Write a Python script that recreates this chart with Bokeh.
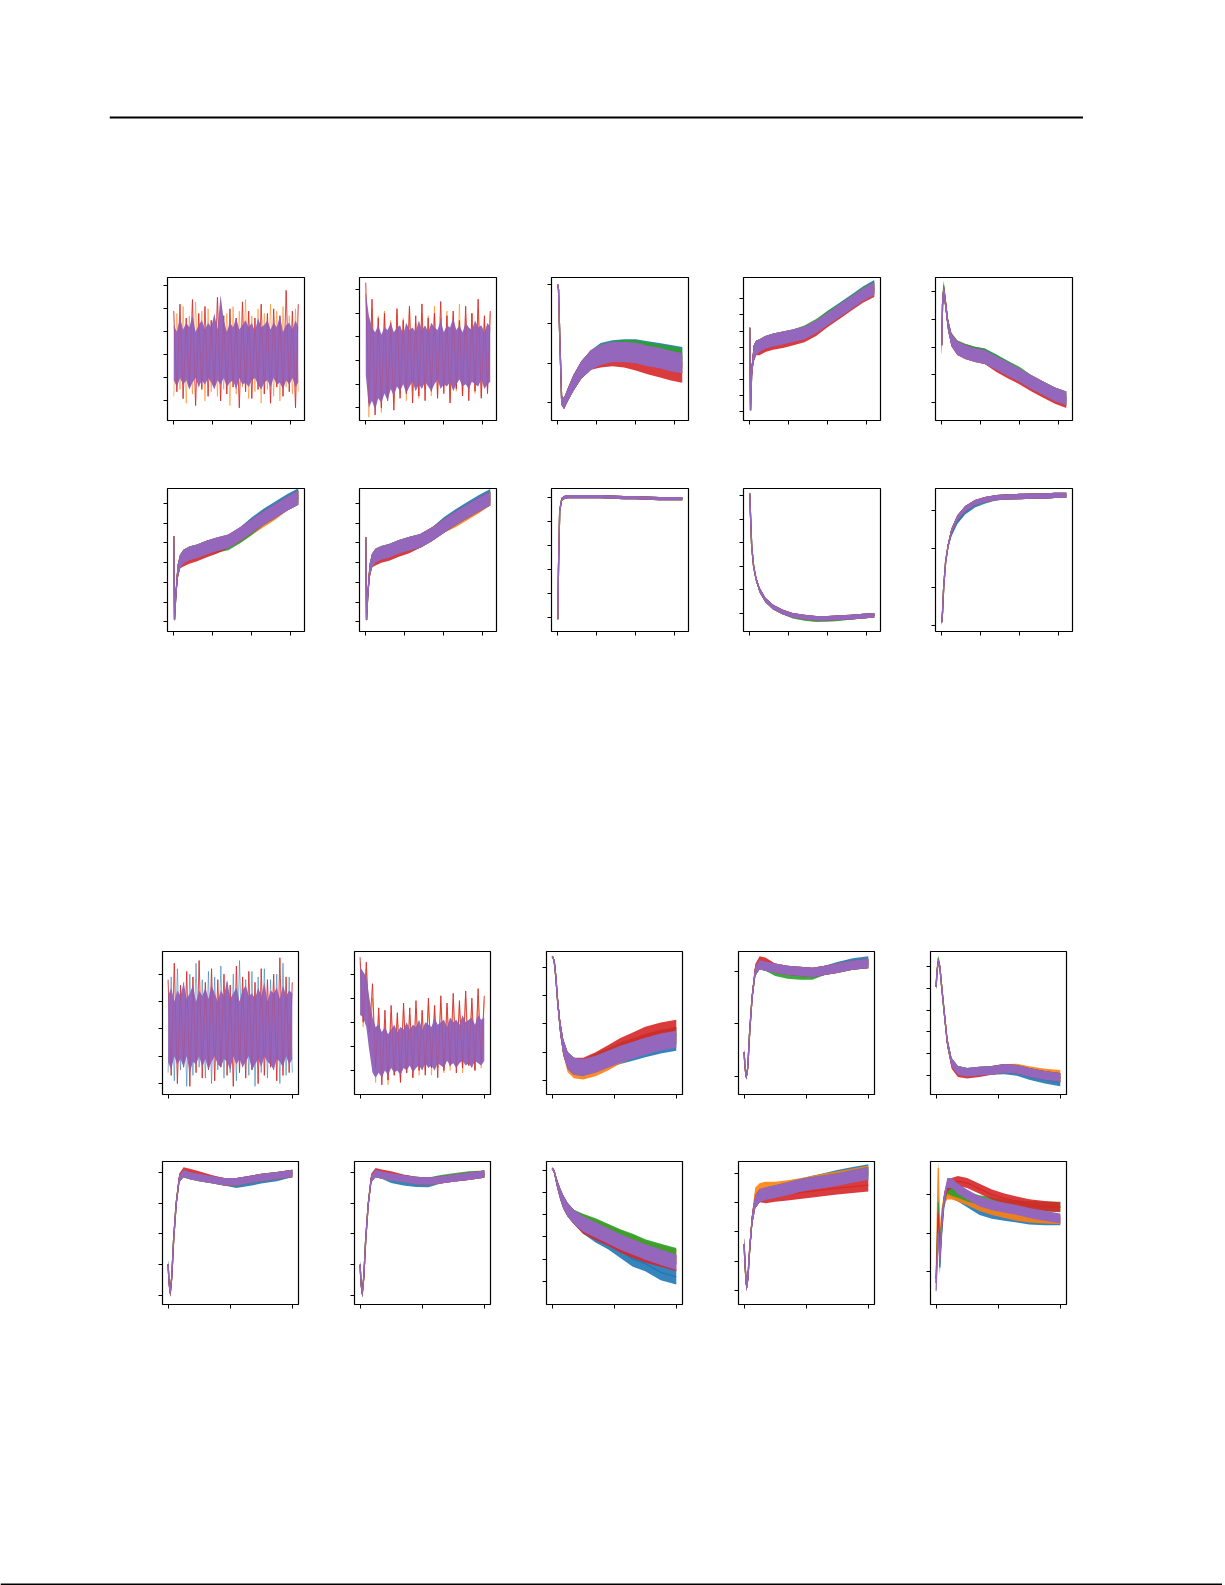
from bokeh.plotting import figure
from bokeh.layouts import row, column
from bokeh.models import Spacer, FixedTicker, CustomJSTickFormatter, Range1d
from bokeh.embed import file_html
from bokeh.resources import INLINE

# series colours (blue, orange, green, red, purple)
COLORS = ["#1f77b4", "#ff7f0e", "#2ca02c", "#d62728", "#9467bd"]

# sample positions (top block and bottom block of panels)
XT = [0, 0.02, 0.05, 0.1, 0.16, 0.25, 0.4, 0.6, 0.85, 1.1, 1.4, 1.7, 2.0, 2.3, 2.6, 2.9, 3.19]
XB = [0, 0.015, 0.035, 0.06, 0.09, 0.13, 0.18, 0.25, 0.35, 0.5, 0.7, 0.9, 1.1, 1.3, 1.5, 1.75, 2.0]
XT_TICKS = [0, 1, 2, 3]
XB_TICKS = [0, 1, 2]
XNT = [0, 0.08, 0.16, 0.24, 0.32, 0.4, 0.48, 0.56, 0.64, 0.72, 0.8, 0.88, 0.96, 1.04, 1.12, 1.2,
       1.28, 1.36, 1.44, 1.52, 1.6, 1.68, 1.76, 1.84, 1.92, 2.0, 2.08, 2.16, 2.24, 2.32, 2.4, 2.48,
       2.56, 2.64, 2.72, 2.8, 2.88, 2.96, 3.04, 3.12, 3.19]
XNB = [0, 0.05, 0.1, 0.15, 0.2, 0.25, 0.3, 0.35, 0.4, 0.45, 0.5, 0.55, 0.6, 0.65, 0.7, 0.75, 0.8,
       0.85, 0.9, 0.95, 1.0, 1.05, 1.1, 1.15, 1.2, 1.25, 1.3, 1.35, 1.4, 1.45, 1.5, 1.55, 1.6, 1.65,
       1.7, 1.75, 1.8, 1.85, 1.9, 1.95, 2.0]


def seg(base, start, vals):
    out = list(base)
    out[start:start + len(vals)] = vals
    return out


# ---------------- noisy panels (fine sampling) ----------------
P1_PHI = [3.3, 3.0, 3.6, 3.1, 3.4, 3.2, 3.7, 3.0, 3.3, 3.5, 3.1, 3.4, 3.2, 3.8, 3.1, 4.6, 3.5, 3.0, 3.4,
          3.2, 3.6, 3.1, 3.3, 3.5, 3.2, 3.4, 3.0, 3.6, 3.2, 3.3, 3.5, 3.1, 3.4, 3.2, 3.7, 3.0, 3.3, 3.4,
          3.1, 3.5, 3.2]
P1_PLO = [0.9, 0.6, 1.0, 0.7, 0.9, 0.5, 0.8, 1.0, 0.6, 0.9, 0.7, 1.0, 0.8, 0.5, 0.9, 0.7, 1.0, 0.6, 0.8,
          0.9, 0.5, 1.0, 0.7, 0.8, 0.6, 0.9, 1.0, 0.7, 0.5, 0.8, 0.9, 0.6, 1.0, 0.7, 0.8, 0.5, 0.9, 0.7,
          1.0, 0.6, 0.8]
P1_RED = [3.9, 0.4, 4.2, 0.1, 3.6, 0.6, 4.4, -0.2, 3.8, 0.5, 4.1, 0.2, 3.5, 0.7, 4.5, 0.0, 3.7, 0.3,
          4.0, 0.6, 3.6, -0.3, 4.3, 0.4, 3.9, 0.1, 3.6, 0.5, 4.2, 0.3, 3.8, -0.1, 4.0, 0.6, 3.7, 0.2,
          4.8, 0.4, 3.9, -0.3, 4.2]
P1_ALT = [0.2, 3.8, 0.5, 4.1, -0.1, 3.7, 0.3, 4.3, 0.6, 3.9, 0.0, 4.0, 0.4, 3.6, 0.2, 4.2, 0.5, 3.8,
          -0.2, 4.1, 0.3, 3.9, 0.6, 4.4, 0.1, 3.7, 0.4, 4.0, -0.1, 3.8, 0.5, 4.2, 0.2, 3.9, 0.0, 4.1,
          0.6, 3.7, 0.3, 4.0, 0.4]

P2_PHI = [4.9, 3.9, 3.4, 3.2, 3.5, 3.1, 3.4, 3.3, 3.6, 3.2, 3.4, 3.5, 3.1, 3.6, 3.3, 3.4, 3.2, 3.7, 3.3,
          3.5, 3.2, 3.6, 3.4, 3.3, 3.7, 3.2, 3.5, 3.4, 3.8, 3.3, 3.5, 3.2, 3.6, 3.4, 3.3, 3.7, 3.4, 3.5,
          3.2, 3.6, 3.4]
P2_PLO = [1.4, 0.0, 0.3, -0.1, 0.4, 0.2, 0.6, 0.3, 0.8, 0.5, 0.9, 0.7, 1.0, 0.6, 0.9, 1.1, 0.7, 1.0,
          0.8, 1.1, 0.9, 0.7, 1.0, 1.2, 0.8, 1.0, 0.9, 1.1, 0.7, 1.0, 1.2, 0.9, 1.0, 0.8, 1.1, 1.0, 0.9,
          1.2, 0.8, 1.0, 1.1]
P2_RED = [5.3, 0.2, 4.6, -0.3, 3.8, 0.0, 4.0, 0.3, 3.6, -0.1, 4.2, 0.4, 3.7, 0.6, 4.3, 0.2, 3.9, 0.5,
          4.4, 0.3, 3.8, 0.7, 4.0, 0.4, 4.5, 0.6, 3.9, 0.2, 4.1, 0.8, 3.7, 0.5, 4.3, 0.3, 4.0, 0.7,
          4.6, 0.4, 3.9, 0.6, 4.1]
P2_ALT = [4.8, -0.4, 4.2, 0.1, 3.9, -0.2, 4.1, 0.4, 3.7, 0.2, 4.0, 0.6, 3.8, 0.3, 4.2, 0.7, 3.6, 0.4,
          4.0, 0.8, 3.9, 0.5, 4.3, 0.6, 3.8, 0.9, 4.1, 0.4, 3.9, 0.7, 4.4, 0.5, 3.8, 0.8, 4.0, 0.6,
          4.2, 0.5, 3.7, 0.8, 4.0]

P11_PHI = [3.2, 3.5, 3.0, 3.4, 3.2, 3.7, 3.1, 3.3, 3.6, 3.0, 3.4, 3.2, 3.5, 3.1, 3.6, 3.3, 3.0, 3.4,
           3.2, 3.8, 3.1, 3.3, 3.5, 3.0, 3.4, 3.6, 3.2, 3.3, 3.1, 3.5, 3.2, 3.7, 3.0, 3.4, 3.3, 3.5,
           3.1, 3.6, 3.2, 3.4, 3.3]
P11_PLO = [0.8, 0.5, 1.0, 0.7, 0.9, 0.6, 1.0, 0.4, 0.8, 0.7, 1.0, 0.6, 0.9, 0.5, 0.8, 1.0, 0.7, 0.6,
           0.9, 0.8, 0.5, 1.0, 0.7, 0.9, 0.6, 0.8, 1.0, 0.5, 0.7, 0.9, 0.6, 1.0, 0.8, 0.7, 0.5, 0.9,
           0.8, 0.6, 1.0, 0.7, 0.9]
P11_RED = [3.8, 0.3, 4.4, 0.0, 3.6, 0.6, 4.1, -0.1, 3.9, 0.4, 4.5, 0.2, 3.7, 0.5, 4.2, 0.1, 3.8, 0.6,
           4.0, 0.3, 3.6, -0.1, 4.3, 0.4, 3.9, 0.2, 4.1, 0.5, 3.7, 0.0, 4.2, 0.3, 3.8, 0.6, 4.0, 0.1,
           4.6, 0.3, 3.9, 0.4, 3.7]
P11_ALT = [0.4, 3.9, 0.1, 4.2, 0.5, 3.7, -0.1, 4.0, 0.3, 4.4, 0.6, 3.8, 0.2, 4.1, 0.0, 3.9, 0.5, 4.3,
           0.2, 3.7, 0.4, 4.0, 0.1, 4.5, 0.6, 3.8, 0.3, 4.1, -0.1, 3.9, 0.4, 4.2, 0.2, 3.8, 0.5, 4.0,
           0.0, 4.4, 0.3, 3.9, 0.4]

P12_PHI = [4.3, 4.1, 3.9, 3.0, 2.2, 1.8, 1.9, 1.6, 1.8, 1.5, 1.7, 1.9, 1.6, 1.8, 1.7, 2.0, 1.7, 1.9,
           1.8, 2.1, 1.7, 2.0, 1.9, 1.8, 2.2, 1.9, 2.0, 2.1, 1.8, 2.2, 2.0, 2.1, 1.9, 2.3, 2.0, 2.1,
           2.2, 1.9, 2.3, 2.1, 2.2]
P12_PLO = [2.3, 2.2, 1.8, 0.8, -0.1, -0.3, -0.1, -0.3, 0.0, -0.2, 0.1, -0.1, 0.0, -0.2, 0.1, 0.0, 0.2,
           -0.1, 0.1, 0.2, 0.0, 0.3, 0.1, 0.2, 0.0, 0.3, 0.2, 0.1, 0.4, 0.2, 0.3, 0.1, 0.3, 0.4, 0.2,
           0.3, 0.1, 0.4, 0.3, 0.2, 0.4]
P12_RED = [4.7, 2.0, 4.5, 1.6, 3.6, 0.1, 2.6, -0.6, 2.5, -0.4, 2.7, -0.2, 2.4, -0.5, 2.8, -0.1, 2.6,
           -0.3, 2.9, 0.0, 2.5, -0.2, 3.0, 0.1, 2.7, -0.3, 3.1, 0.0, 2.8, 0.2, 3.2, -0.1, 2.9, 0.1,
           3.3, 0.2, 3.0, 0.0, 3.4, 0.3, 3.1]
P12_ALT = [4.5, 1.8, 4.2, 0.9, 3.0, -0.5, 2.3, -0.3, 2.1, -0.6, 2.4, -0.2, 2.2, -0.4, 2.5, -0.1, 2.3,
           -0.3, 2.6, -0.2, 2.4, 0.0, 2.7, -0.2, 2.5, 0.1, 2.8, -0.1, 2.6, 0.0, 2.9, 0.1, 2.7, -0.1,
           3.0, 0.2, 2.8, 0.0, 3.1, 0.1, 2.9]

# ---------------- row 1 (smooth panels) ----------------
P3_MID = [3.0, 2.87, 1.72, 0.05, -0.03, 0.18, 0.49, 0.82, 1.08, 1.21, 1.28, 1.28, 1.26, 1.18, 1.13, 1.05, 1.0]
P3_BLUE = seg(P3_MID, 9, [1.25, 1.32, 1.35, 1.35, 1.3, 1.25, 1.2, 1.15])
P3_GREEN = seg(P3_MID, 9, [1.22, 1.3, 1.33, 1.33, 1.28, 1.22, 1.17, 1.12])
P3_RED = seg(P3_MID, 9, [1.15, 1.18, 1.15, 1.07, 0.98, 0.9, 0.82, 0.76])
P3_W = [0.03, 0.05, 0.1, 0.12, 0.14, 0.16, 0.2, 0.22, 0.25, 0.26, 0.26, 0.26, 0.26, 0.26, 0.26, 0.26, 0.26]

P4_MID = [5.2, 0.1, 2.5, 3.6, 3.95, 4.1, 4.3, 4.45, 4.57, 4.7, 4.88, 5.26, 5.76, 6.25, 6.75, 7.25, 7.62]
P4_BLUE = seg(P4_MID, 12, [5.85, 6.35, 6.85, 7.35, 7.75])
P4_GREEN = seg(P4_MID, 10, [4.95, 5.35, 5.85, 6.3, 6.8, 7.3, 7.65])
P4_RED = seg(P4_MID, 5, [3.9, 4.1, 4.25, 4.35, 4.5, 4.7, 5.1, 5.65, 6.15, 6.65, 7.15, 7.5])
P4_W = [0.1, 0.1, 0.4, 0.5, 0.45, 0.4, 0.4, 0.4, 0.4, 0.4, 0.4, 0.4, 0.4, 0.4, 0.4, 0.4, 0.4]

P5_MID = [2.07, 3.53, 4.07, 3.53, 2.8, 2.25, 1.96, 1.82, 1.71, 1.64, 1.42, 1.2, 0.98, 0.73, 0.51, 0.29, 0.15]
P5_BLUE = seg(P5_MID, 7, [1.86, 1.76, 1.7, 1.48, 1.24])
P5_GREEN = seg(P5_MID, 2, [4.2, 3.6, 2.85, 2.3, 2.0, 1.87, 1.76, 1.7, 1.47, 1.25, 1.03])
P5_RED = seg(P5_MID, 10, [1.35, 1.12, 0.9, 0.65, 0.42, 0.2, 0.05])
P5_W = [0.4, 0.3, 0.2, 0.2, 0.2, 0.22, 0.25, 0.25, 0.25, 0.25, 0.25, 0.25, 0.25, 0.25, 0.25, 0.25, 0.25]

# ---------------- row 2 ----------------
P6_MID = [4.34, 0.12, 1.25, 2.54, 3.05, 3.31, 3.47, 3.57, 3.77, 3.93, 4.08, 4.44, 4.85, 5.26, 5.62, 5.98, 6.29]
P6_BLUE = seg(P6_MID, 12, [4.95, 5.38, 5.75, 6.12, 6.42])
P6_ORANGE = seg(P6_MID, 11, [4.35, 4.75, 5.15, 5.52])
P6_GREEN = seg(P6_MID, 9, [3.85, 3.98, 4.33, 4.75])
P6_RED = seg(P6_MID, 5, [3.15, 3.3, 3.42, 3.62, 3.8])
P6_W = [0.1, 0.1, 0.3, 0.35, 0.35, 0.35, 0.35, 0.35, 0.35, 0.35, 0.35, 0.35, 0.35, 0.35, 0.35, 0.35, 0.35]

P7_MID = [4.3, 0.1, 1.3, 2.6, 3.1, 3.35, 3.5, 3.6, 3.8, 3.95, 4.1, 4.45, 4.85, 5.25, 5.6, 5.95, 6.25]
P7_BLUE = seg(P7_MID, 12, [4.95, 5.36, 5.72, 6.08, 6.38])
P7_ORANGE = seg(P7_MID, 13, [5.15, 5.5, 5.85])
P7_RED = seg(P7_MID, 5, [3.2, 3.35, 3.45, 3.65, 3.82])
P7_W = P6_W

P8_MID = [-0.08, 2.12, 4.45, 4.92, 5.0, 5.04, 5.04, 5.04, 5.04, 5.04, 5.02, 5.0, 5.0, 4.98, 4.96, 4.96, 4.96]
P8_W = [0.07] * 17

P9_MID = [5.09, 4.14, 2.84, 1.98, 1.47, 0.99, 0.56, 0.26, 0.04, -0.09, -0.17, -0.22, -0.22, -0.19, -0.17, -0.13, -0.09]
P9_GREEN = seg(P9_MID, 9, [-0.13, -0.22, -0.28, -0.27, -0.23])
P9_W = [0.03, 0.05, 0.08, 0.1, 0.1, 0.1, 0.1, 0.1, 0.1, 0.1, 0.1, 0.1, 0.1, 0.1, 0.1, 0.1, 0.1]

P10_MID = [0.08, 0.34, 1.01, 1.67, 2.07, 2.47, 2.81, 3.05, 3.21, 3.29, 3.34, 3.36, 3.37, 3.38, 3.38, 3.4, 3.4]
P10_BLUE = seg(P10_MID, 5, [2.4, 2.72, 2.97, 3.15, 3.25])
P10_W = [0.07] * 17

# ---------------- row 3 ----------------
P13_MID = [4.39, 4.36, 4.21, 3.68, 2.79, 1.89, 1.18, 0.71, 0.5, 0.46, 0.57, 0.75, 0.93, 1.07, 1.21, 1.36, 1.46]
P13_BLUE = seg(P13_MID, 12, [0.88, 1.0, 1.12, 1.25, 1.35])
P13_ORANGE = seg(P13_MID, 7, [0.6, 0.38, 0.33, 0.45, 0.65, 0.9, 1.1, 1.28, 1.45, 1.55])
P13_GREEN = seg(P13_MID, 10, [0.65, 0.85, 1.05, 1.2, 1.35, 1.5, 1.6])
P13_RED = seg(P13_MID, 9, [0.5, 0.7, 0.95, 1.2, 1.4, 1.6, 1.75, 1.85])
P13_W = [0.03, 0.03, 0.08, 0.15, 0.2, 0.25, 0.28, 0.3, 0.3, 0.3, 0.3, 0.3, 0.3, 0.3, 0.3, 0.3, 0.3]

P14_MID = [0.46, 0.17, -0.02, 0.17, 0.85, 1.52, 2.0, 2.13, 2.1, 2.06, 2.02, 2.0, 1.98, 2.02, 2.06, 2.12, 2.15]
P14_BLUE = seg(P14_MID, 14, [2.09, 2.16, 2.2])
P14_GREEN = seg(P14_MID, 9, [2.0, 1.95, 1.93, 1.93])
P14_RED = seg(P14_MID, 6, [2.05, 2.2, 2.17])
P14_W = [0.05, 0.05, 0.05, 0.06, 0.08, 0.09, 0.09, 0.09, 0.09, 0.09, 0.09, 0.09, 0.09, 0.09, 0.09, 0.09, 0.09]

P15_MID = [4.07, 4.77, 5.23, 5.0, 4.07, 2.92, 1.53, 0.6, 0.23, 0.14, 0.19, 0.23, 0.32, 0.28, 0.14, 0.0, -0.09]
P15_BLUE = seg(P15_MID, 12, [0.25, 0.18, 0.0, -0.18, -0.3])
P15_ORANGE = seg(P15_MID, 13, [0.33, 0.22, 0.1, 0.05])
P15_GREEN = seg(P15_MID, 2, [5.4])
P15_RED = seg(P15_MID, 7, [0.5, 0.12, 0.05, 0.12])
P15_W = [0.15, 0.15, 0.12, 0.12, 0.15, 0.18, 0.2, 0.2, 0.2, 0.2, 0.2, 0.2, 0.2, 0.2, 0.2, 0.2, 0.2]

# ---------------- row 4 ----------------
P16_MID = [1.02, 0.43, 0.07, 0.62, 1.84, 2.98, 3.8, 3.97, 3.9, 3.84, 3.77, 3.7, 3.7, 3.77, 3.84, 3.9, 3.97]
P16_BLUE = seg(P16_MID, 12, [3.62, 3.68, 3.76, 3.84])
P16_RED = seg(P16_MID, 6, [3.85, 4.05, 4.0, 3.92, 3.8])
P16_W = [0.12] * 17

P17_MID = [1.0, 0.4, 0.05, 0.6, 1.8, 2.95, 3.8, 3.97, 3.92, 3.86, 3.8, 3.74, 3.72, 3.76, 3.82, 3.88, 3.95]
P17_BLUE = seg(P17_MID, 9, [3.78, 3.7, 3.65, 3.64])
P17_GREEN = seg(P17_MID, 13, [3.8, 3.86, 3.92])
P17_RED = seg(P17_MID, 6, [3.85, 4.03, 3.98, 3.92, 3.82])
P17_W = [0.12] * 17

P18_MID = [5.09, 5.05, 4.95, 4.64, 4.32, 3.95, 3.59, 3.23, 2.91, 2.59, 2.32, 2.05, 1.77, 1.55, 1.32, 1.09, 0.86]
P18_BLUE = seg(P18_MID, 9, [2.5, 2.1, 1.8, 1.4, 1.0, 0.8, 0.4, 0.2])
P18_ORANGE = seg(P18_MID, 9, [2.65, 2.45, 2.2, 1.95, 1.75, 1.5, 1.3, 1.1])
P18_GREEN = seg(P18_MID, 9, [2.7, 2.5, 2.25, 2.0, 1.8, 1.55, 1.35, 1.15])
P18_RED = seg(P18_MID, 9, [2.5, 2.2, 1.95, 1.65, 1.4, 1.2, 1.0, 0.8])
P18_W = [0.05, 0.05, 0.08, 0.15, 0.2, 0.25, 0.3, 0.3, 0.32, 0.35, 0.35, 0.35, 0.35, 0.35, 0.35, 0.35, 0.35]

P19_MID = [1.59, 0.9, 0.21, 0.38, 1.41, 2.45, 3.03, 3.24, 3.31, 3.38, 3.48, 3.59, 3.66, 3.72, 3.79, 3.9, 4.0]
P19_BLUE = seg(P19_MID, 10, [3.5, 3.6, 3.7, 3.8, 3.9, 4.0, 4.1])
P19_ORANGE = seg(P19_MID, 6, [3.3, 3.45, 3.5, 3.5, 3.55, 3.62, 3.7, 3.78, 3.86, 3.95, 4.05])
P19_RED = seg(P19_MID, 8, [3.2, 3.25, 3.3, 3.35, 3.4, 3.45, 3.5, 3.55, 3.6])
P19_W = [0.22] * 17

P20_BLUE = [-0.3, 0.3, 1.3, 0.1, 1.0, 1.8, 2.1, 2.05, 1.95, 1.8, 1.6, 1.5, 1.45, 1.4, 1.35, 1.33, 1.33]
P20_ORANGE = [-0.2, 1.0, 2.7, 0.8, 1.5, 1.9, 2.0, 2.0, 1.95, 1.85, 1.7, 1.6, 1.52, 1.45, 1.4, 1.38, 1.36]
P20_GREEN = [-0.3, 0.5, 1.8, 0.5, 1.3, 1.9, 2.15, 2.1, 2.05, 1.95, 1.85, 1.8, 1.75, 1.72, 1.7, 1.68, 1.68]
P20_RED = [-0.2, 0.4, 1.5, 0.3, 1.2, 1.9, 2.2, 2.3, 2.35, 2.3, 2.15, 2.0, 1.9, 1.82, 1.75, 1.7, 1.67]
P20_PURPLE = [-0.5, 0.2, 1.0, 0.3, 1.2, 1.9, 2.3, 2.3, 2.15, 2.0, 1.82, 1.72, 1.66, 1.6, 1.52, 1.45, 1.38]
P20_W = [0.1, 0.15, 0.2, 0.2, 0.15, 0.15, 0.13, 0.13, 0.13, 0.13, 0.13, 0.13, 0.13, 0.13, 0.13, 0.13, 0.13]


def P(grid, n, yr, series=None, w=None, noisy=None):
    return dict(grid=grid, n=n, yr=yr, series=series, w=w, noisy=noisy)


ROW1 = [
    P("t", 6, (-0.85, 5.36), noisy=(XNT, P1_PLO, P1_PHI, P1_RED, P1_ALT, 1)),
    P("t", 6, (-0.54, 5.52), noisy=(XNT, P2_PLO, P2_PHI, P2_RED, P2_ALT, 1)),
    P("t", 4, (-0.46, 3.18), [P3_BLUE, P3_MID, P3_GREEN, P3_RED, P3_MID], P3_W),
    P("t", 8, (-0.53, 8.31), [P4_BLUE, P4_MID, P4_GREEN, P4_RED, P4_MID], P4_W),
    P("t", 5, (-0.65, 4.51), [P5_BLUE, P5_MID, P5_GREEN, P5_RED, P5_MID], P5_W),
]
ROW2 = [
    P("t", 7, (-0.49, 6.76), [P6_BLUE, P6_ORANGE, P6_GREEN, P6_RED, P6_MID], P6_W),
    P("t", 7, (-0.49, 6.76), [P7_BLUE, P7_ORANGE, P7_MID, P7_RED, P7_MID], P7_W),
    P("t", 6, (-0.59, 5.38), [P8_MID] * 5, P8_W),
    P("t", 6, (-0.78, 5.3), [P9_MID, P9_MID, P9_GREEN, P9_MID, P9_MID], P9_W),
    P("t", 4, (-0.16, 3.58), [P10_BLUE, P10_MID, P10_MID, P10_MID, P10_MID], P10_W),
]
ROW3 = [
    P("b", 5, (-0.4, 4.83), noisy=(XNB, P11_PLO, P11_PHI, P11_RED, P11_ALT, 0)),
    P("b", 5, (-1.0, 4.94), noisy=(XNB, P12_PLO, P12_PHI, P12_RED, P12_ALT, 1)),
    P("b", 5, (-0.5, 4.57), [P13_BLUE, P13_ORANGE, P13_GREEN, P13_RED, P13_MID], P13_W),
    P("b", 3, (-0.35, 2.38), [P14_BLUE, P14_MID, P14_GREEN, P14_RED, P14_MID], P14_W),
    P("b", 6, (-0.88, 5.69), [P15_BLUE, P15_ORANGE, P15_GREEN, P15_RED, P15_MID], P15_W),
]
ROW4 = [
    P("b", 5, (-0.3, 4.36), [P16_BLUE, P16_MID, P16_MID, P16_RED, P16_MID], P16_W),
    P("b", 5, (-0.3, 4.36), [P17_BLUE, P17_MID, P17_GREEN, P17_RED, P17_MID], P17_W),
    P("b", 6, (-1.05, 5.41), [P18_BLUE, P18_ORANGE, P18_GREEN, P18_RED, P18_MID], P18_W),
    P("b", 5, (-0.48, 4.41), [P19_BLUE, P19_ORANGE, P19_MID, P19_RED, P19_MID], P19_W),
    P("b", 3, (-0.86, 2.86), [P20_BLUE, P20_ORANGE, P20_GREEN, P20_RED, P20_PURPLE], P20_W),
]

PITCH = 192
FRAME_H = 143
LEFT = 12
TOP = 8
EMPTY = CustomJSTickFormatter(code="return ''")


def make_panel(spec, fig_h):
    if spec["grid"] == "t":
        xs, xr, xt, fw = XT, (-0.16, 3.35), XT_TICKS, 137
    else:
        xs, xr, xt, fw = XB, (-0.09, 2.1), XB_TICKS, 136
    p = figure(width=PITCH, height=fig_h, x_range=Range1d(*xr), y_range=Range1d(*spec["yr"]),
               toolbar_location=None, output_backend="svg",
               min_border_left=LEFT, min_border_right=PITCH - fw - LEFT,
               min_border_top=TOP, min_border_bottom=fig_h - FRAME_H - TOP)
    p.grid.visible = False
    p.outline_line_color = "black"
    p.outline_line_width = 1.2
    p.xaxis.ticker = FixedTicker(ticks=xt)
    p.yaxis.ticker = FixedTicker(ticks=list(range(spec["n"])))
    for ax in (p.xaxis[0], p.yaxis[0]):
        ax.formatter = EMPTY
        ax.axis_line_color = None
        ax.major_tick_in = 0
        ax.major_tick_out = 4
        ax.major_tick_line_color = "black"
        ax.major_tick_line_width = 1
        ax.minor_tick_line_color = None
        ax.major_label_standoff = 0
        ax.major_label_text_font_size = "6px"
    if spec["noisy"] is not None:
        nx, lo, hi, red, alt, alt_c = spec["noisy"]
        p.line(nx, alt, line_color=COLORS[alt_c], line_width=0.9, line_alpha=0.6)
        p.line(nx, red, line_color=COLORS[3], line_width=0.9, line_alpha=0.85)
        p.varea(x=nx, y1=lo, y2=hi, fill_color=COLORS[4], fill_alpha=1.0)
        p.line(nx, red, line_color=COLORS[3], line_width=0.6, line_alpha=0.35)
    else:
        w = spec["w"]
        for k, mid in enumerate(spec["series"]):
            lo = [m - d for m, d in zip(mid, w)]
            hi = [m + d for m, d in zip(mid, w)]
            p.varea(x=xs, y1=lo, y2=hi, fill_color=COLORS[k], fill_alpha=1.0 if k == 4 else 0.9)
            p.line(xs, mid, line_color=COLORS[k], line_width=1.3,
                   line_alpha=1.0 if k == 4 else 0.9)
    return p


def rule(w, h, y0, y1):
    f = figure(width=w, height=h, toolbar_location=None, output_backend="svg", min_border=0,
               x_axis_type=None, y_axis_type=None, x_range=Range1d(0, 1), y_range=Range1d(0, h),
               outline_line_color=None)
    f.grid.visible = False
    f.quad(left=[0], right=[1], bottom=[y0], top=[y1], color="black", line_color=None)
    return f


layout = column(
    Spacer(width=10, height=110),
    row(Spacer(width=109, height=10), rule(974, 10, 4, 6)),
    Spacer(width=10, height=149),
    row(Spacer(width=155, height=211), *[make_panel(s, 211) for s in ROW1]),
    row(Spacer(width=155, height=211), *[make_panel(s, 211) for s in ROW2]),
    Spacer(width=10, height=252),
    row(Spacer(width=150, height=210), *[make_panel(s, 210) for s in ROW3]),
    row(Spacer(width=150, height=210), *[make_panel(s, 210) for s in ROW4]),
    Spacer(width=10, height=212),
    rule(1222, 10, 2, 4),
)

open("out.html", "w").write(file_html(layout, INLINE, title="panels"))
